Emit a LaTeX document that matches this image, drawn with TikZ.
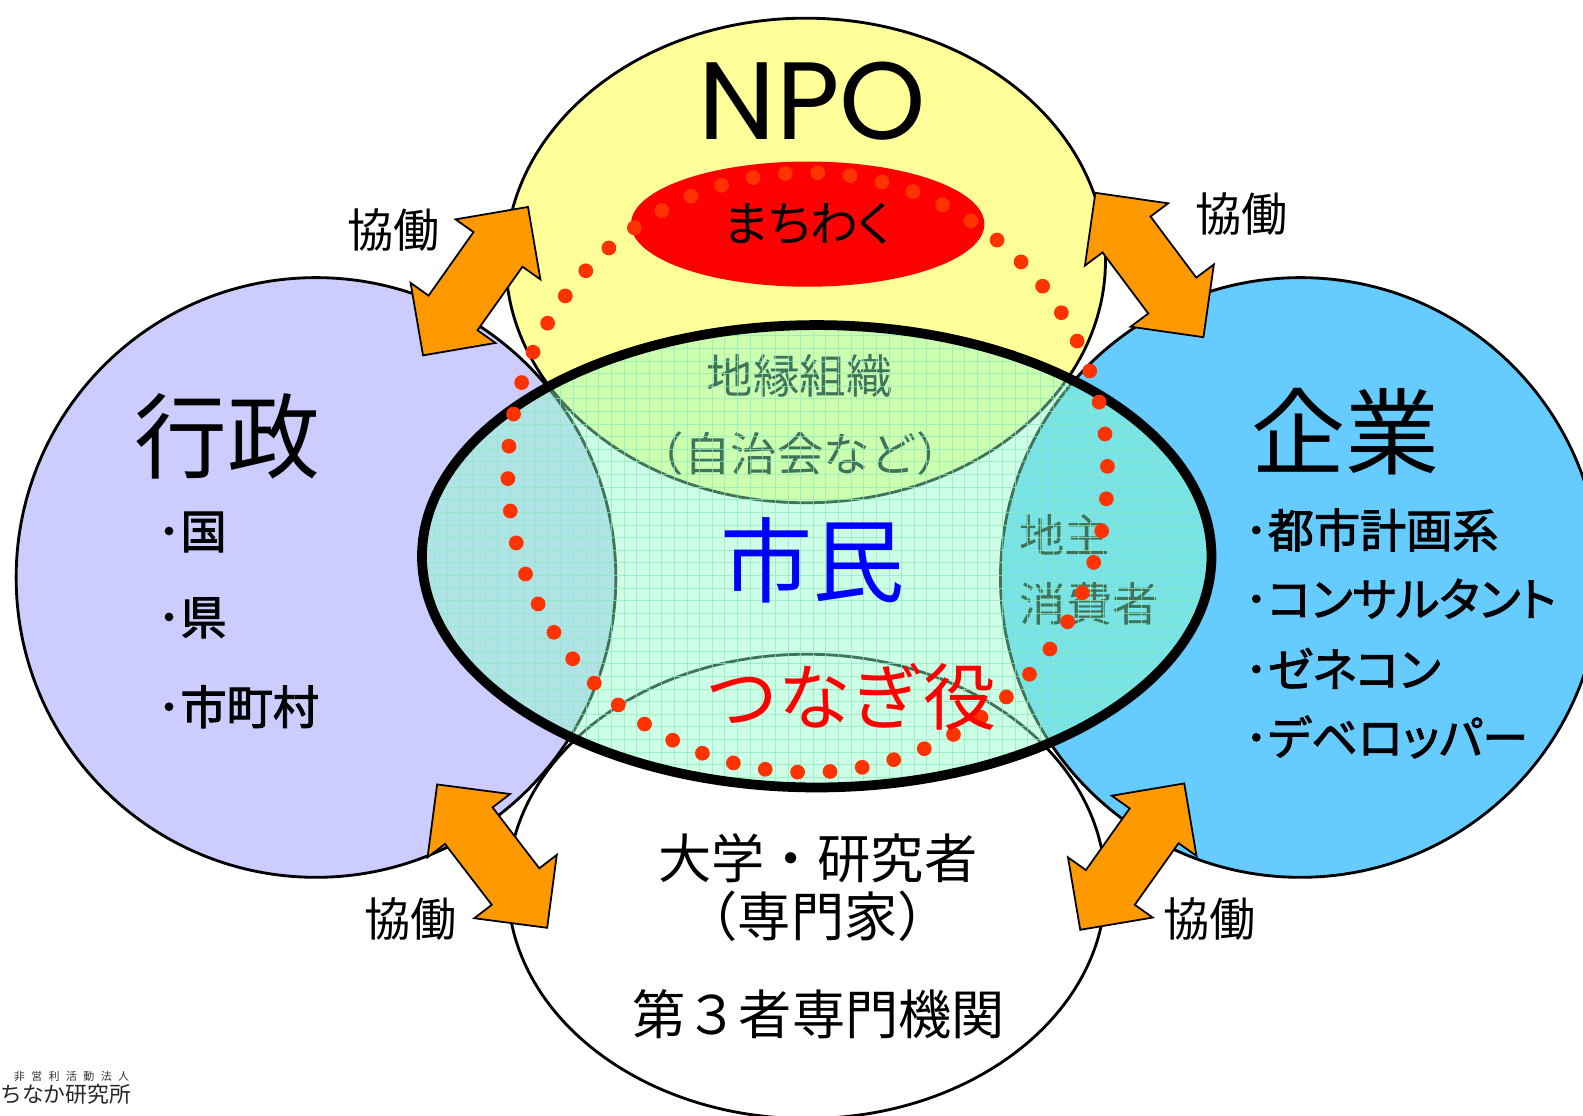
\documentclass[tikz,border=0pt]{standalone}
\usepackage{fontspec}
\usetikzlibrary{calc}
\newfontfamily\jp{Noto Sans CJK JP}
\newfontfamily\jpp[RawFeature=+palt]{Noto Sans CJK JP}
\newfontfamily\jpbold[RawFeature=+palt,FakeBold=2]{Noto Sans CJK JP}
\newfontfamily\npofont{Poppins}
\newcommand\fs[1]{\fontsize{#1pt}{#1pt}\selectfont}
\definecolor{npoC}{HTML}{FFFF99}
\definecolor{gyoseiC}{HTML}{CCCCFF}
\definecolor{kigyoC}{HTML}{66CCFF}
\definecolor{arrowO}{HTML}{FF9900}
\definecolor{dotC}{HTML}{FF3300}
\definecolor{overlayC}{RGB}{142,255,200}
\definecolor{gridC}{RGB}{140,235,190}
\definecolor{shimin}{HTML}{0000FF}
\newcommand\duoarrow[2]{%
  \coordinate (ha) at ($(#1)!1.03cm!(#2)$);
  \coordinate (hb) at ($(#2)!1.03cm!(#1)$);
  \filldraw[arrowsty] (#1) -- ($(ha)!1.03cm!90:(#2)$) -- ($(ha)!0.594cm!90:(#2)$)
    -- ($(hb)!0.594cm!-90:(#1)$) -- ($(hb)!1.03cm!-90:(#1)$) -- (#2)
    -- ($(hb)!1.03cm!90:(#1)$) -- ($(hb)!0.594cm!90:(#1)$)
    -- ($(ha)!0.594cm!-90:(#2)$) -- ($(ha)!1.03cm!-90:(#2)$) -- cycle;}
\begin{document}
\begin{tikzpicture}[x=0.02cm,y=-0.02cm,
  outer/.style={draw=black, line width=1.6pt},
  arrowsty/.style={fill=arrowO, draw=black, line width=1pt, line join=miter},
  lbl/.style={inner sep=0pt, outer sep=0pt},
  gridln/.style={draw=gridC, line width=0.45pt, opacity=0.7}]
\useasboundingbox (0,0) rectangle (1568,1105);
\fill[white] (0,0) rectangle (1568,1105);

% outer shapes
\filldraw[outer, fill=gyoseiC] (313,572) circle [radius=297];
\filldraw[outer, fill=kigyoC] (1288,572) circle [radius=297];
\filldraw[outer, fill=white] (799,878) ellipse [x radius=296, y radius=230];
\filldraw[outer, fill=npoC] (798,258) ellipse [x radius=297, y radius=240];

% texts under the translucent ellipse
\node[lbl, font={\jp\fs{26.2}}] (chien) at (792,372) {地縁組織};
\node[lbl, font={\jp\fs{26.2}}] (jichi) at (793,450) {（自治会など）};
\node[lbl, anchor=west, font={\jp\fs{25.5}}] (jinushi) at (1010,530) {地主};
\node[lbl, anchor=west, font={\jp\fs{26.2}}] (shohi) at (1010,598) {消費者};

% central translucent ellipse with grid
\begin{scope}
  \clip (809,551) ellipse [x radius=391, y radius=229];
  \fill[overlayC, fill opacity=0.45] (400,300) rectangle (1220,800);
  \foreach \gx in {418,430.5,...,1202} \draw[gridln] (\gx,318) -- (\gx,782);
  \foreach \gy in {320,332.5,...,782} \draw[gridln] (416,\gy) -- (1202,\gy);
\end{scope}
\draw[line width=5.5pt] (809,551) ellipse [x radius=391, y radius=229];

% machiwaku ellipse
\fill[red] (800,222) ellipse [x radius=175, y radius=62];

% dotted circle
\foreach \k in {0,...,57}
  \fill[dotC] ({800+297*cos(91.93+6.207*\k)},{468+297*sin(91.93+6.207*\k)}) circle [radius=7.3];

% arrows
\coordinate (a1s) at (419,352); \coordinate (a1e) at (523,205);
\coordinate (a2s) at (1085,191); \coordinate (a2e) at (1192,334);
\coordinate (a3s) at (433,777); \coordinate (a3e) at (542,919);
\coordinate (a4s) at (1173,776); \coordinate (a4e) at (1070,921);
\duoarrow{a1s}{a1e}
\duoarrow{a2s}{a2e}
\duoarrow{a3s}{a3e}
\duoarrow{a4s}{a4e}

% labels
\node[lbl, font={\npofont\fs{62}}] (npo) at (805,100) {NPO};
\node[lbl, font={\jpp\fs{27}}] (machi) at (800,222) {まちわく};
\node[lbl, font={\jp\fs{52.3}}] (gyosei) at (225,432) {行政};
\node[lbl, font={\jp\fs{53}}] (kigyo) at (1333,428) {企業};
\node[lbl, font={\jp\fs{52}}, text=shimin] (shiminT) at (805,555) {市民};
\node[lbl, font={\jp\fs{41}}, text=red] (tsunagi) at (843,690) {つなぎ役};

\node[lbl, anchor=west, font={\jpbold\fs{26}}] (k1) at (156,527) {･国};
\node[lbl, anchor=west, font={\jpbold\fs{26}}] (k2) at (156,612) {･県};
\node[lbl, anchor=west, font={\jpbold\fs{26}}] (k3) at (156,700) {･市町村};

\node[lbl, anchor=west, font={\jpbold\fs{26}}] (e1) at (1233,525) {･都市計画系};
\node[lbl, anchor=west, font={\jpbold\fs{26}}] (e2) at (1233,593) {･コンサルタント};
\node[lbl, anchor=west, font={\jpbold\fs{26}}] (e3) at (1233,662) {･ゼネコン};
\node[lbl, anchor=west, font={\jpbold\fs{26}}] (e4) at (1233,730) {･デベロッパー};

\node[lbl, font={\jp\fs{26}}] (kyo1) at (390,228) {協働};
\node[lbl, font={\jp\fs{26}}] (kyo2) at (1230,212) {協働};
\node[lbl, font={\jp\fs{26}}] (kyo3) at (407,910) {協働};
\node[lbl, font={\jp\fs{26}}] (kyo4) at (1198,910) {協働};

\node[lbl, font={\jp\fs{30}}] (daigaku) at (810,850) {大学・研究者};
\node[lbl, font={\jp\fs{30}}] (senmon) at (810,908) {（専門家）};
\node[lbl, font={\jp\fs{30}}] (daisan) at (811,1005) {第３者専門機関};

% logo (cut at the left edge, as in the reference)
\node[lbl, anchor=east, font={\jp\fs{6.2}}, text=black!80] (logo1) at (128,1066)
  {非\hspace{3.6pt}営\hspace{3.6pt}利\hspace{3.6pt}活\hspace{3.6pt}動\hspace{3.6pt}法\hspace{3.6pt}人};
\node[lbl, anchor=east, font={\jp\fs{12.3}}, text=black!85] (logo2) at (130,1084) {まちなか研究所};
\end{tikzpicture}
\end{document}
